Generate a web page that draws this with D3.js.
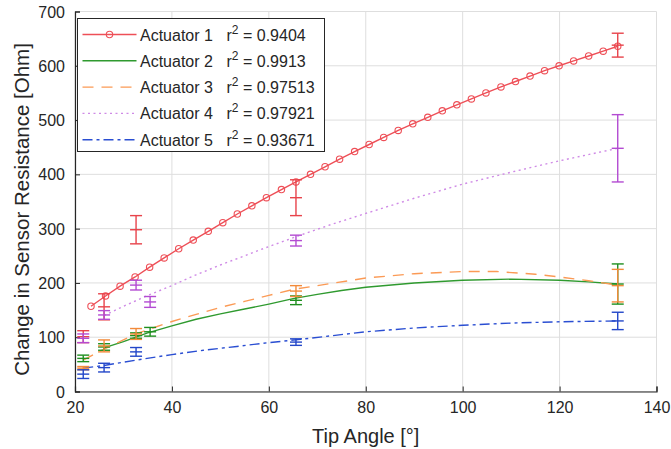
<!DOCTYPE html>
<html>
<head>
<meta charset="utf-8">
<script src="https://cdn.jsdelivr.net/npm/d3@7"></script>
<style>
  html, body { margin: 0; padding: 0; background: #fff; }
  svg { display: block; font-family: "Liberation Sans", Arial, Helvetica, sans-serif; }
</style>
</head>
<body>
<svg id="chart" width="671" height="449"></svg>
<script>
// Axis ticks
const xTicks = [20, 40, 60, 80, 100, 120, 140];
const yTicks = [0, 100, 200, 300, 400, 500, 600, 700];

// Series names and fit quality
const names = ["Actuator 1", "Actuator 2", "Actuator 3", "Actuator 4", "Actuator 5"];
const r2 = ["0.9404", "0.9913", "0.97513", "0.97921", "0.93671"];

// Measured means with error (tip angle in degrees, resistance change in Ohm)
const meas1X = [21.7, 26.0, 32.6, 65.6, 132.0];
const meas1Y = [101, 156, 298, 357, 638];
const meas1E = [11, 24, 26, 33, 22];

const meas2X = [21.7, 26.0, 32.6, 35.5, 65.6, 132.0];
const meas2Y = [61, 82, 103, 110, 168, 198];
const meas2E = [6, 6, 5, 8, 8, 37];

const meas3X = [21.7, 26.0, 32.6, 65.6, 132.0];
const meas3Y = [43, 84, 106, 185, 195];
const meas3E = [3, 11, 10, 10, 30];

const meas4X = [21.7, 26.0, 32.6, 35.5, 65.6, 132.0];
const meas4Y = [98, 141, 196, 165, 278, 448];
const meas4E = [8, 8, 9, 10, 10, 62];

const meas5X = [21.7, 26.0, 32.6, 65.6, 132.0];
const meas5Y = [32, 44, 73, 91, 130];
const meas5E = [8, 8, 8, 6, 16];

// Fitted curves
const fit1X = [23.3, 26.3, 29.3, 32.4, 35.4, 38.4, 41.4, 44.4, 47.5, 50.5, 53.5, 56.5, 59.5,
               62.6, 65.6, 68.6, 71.6, 74.6, 77.7, 80.7, 83.7, 86.7, 89.7, 92.8, 95.8, 98.8,
               101.8, 104.8, 107.9, 110.9, 113.9, 116.9, 119.9, 122.9, 126.0, 129.0, 132.0];
const fit1Y = [157, 176, 194, 211, 229, 246, 263, 279, 295, 311, 327, 342, 357,
               372, 386, 400, 414, 428, 442, 455, 468, 481, 493, 505, 517, 528,
               539, 550, 561, 571, 581, 591, 600, 609, 618, 627, 636];

const fit2X = [25.8, 30, 35, 40, 45, 50, 55, 60, 65, 70, 75, 80, 90, 100, 110, 120, 126, 132];
const fit2Y = [80, 92, 108, 121, 133, 143, 152, 161, 171, 179, 186, 192, 200, 205, 207, 205, 202, 198];

const fit3X = [21.7, 26, 32.5, 40, 45, 50, 55, 60, 65, 70, 80, 90, 100, 107, 115, 120, 126, 132];
const fit3Y = [58, 78, 106, 129, 142, 155, 166, 177, 188, 195, 209, 217, 221, 221, 216, 211, 204, 196];

const fit4X = [26, 30, 35, 40, 45, 50, 55, 60, 66.5, 73, 80, 90, 100, 110, 120, 132];
const fit4Y = [140, 157, 177, 195, 215, 233, 250, 267, 288, 308, 328, 356, 382, 404, 425, 448];

const fit5X = [21.7, 26, 32.7, 40, 46.5, 53.4, 60, 66.5, 80, 90, 100, 110, 120, 132];
const fit5Y = [43, 48, 58, 68, 76, 83, 90, 96, 110, 117, 122, 126, 128.5, 130];

const series = [
  { mx: meas1X, my: meas1Y, me: meas1E, fx: fit1X, fy: fit1Y, line: "#ee4f57", bar: "#e8434b", dash: null, marker: true },
  { mx: meas2X, my: meas2Y, me: meas2E, fx: fit2X, fy: fit2Y, line: "#2f9a2f", bar: "#1f8f1f", dash: null, marker: false },
  { mx: meas3X, my: meas3Y, me: meas3E, fx: fit3X, fy: fit3Y, line: "#fb9a55", bar: "#f28a3a", dash: "11,8", marker: false },
  { mx: meas4X, my: meas4Y, me: meas4E, fx: fit4X, fy: fit4Y, line: "#cf8ae6", bar: "#b34bd2", dash: "2,3.5", marker: false },
  { mx: meas5X, my: meas5Y, me: meas5E, fx: fit5X, fy: fit5Y, line: "#2a4ed2", bar: "#2347c9", dash: "10,4,3,4", marker: false }
];

const svg = d3.select("#chart");
const W = 671, H = 449;
const m = { left: 75, right: 14.5, top: 11.5, bottom: 57.5 };

const x = d3.scaleLinear().domain([20, 140]).range([m.left, W - m.right]);
const y = d3.scaleLinear().domain([0, 700]).range([H - m.bottom, m.top]);

// Grid
const grid = svg.append("g");
grid.selectAll("line.gx").data(xTicks).join("line")
  .attr("x1", d => x(d)).attr("x2", d => x(d))
  .attr("y1", y(0)).attr("y2", y(700))
  .attr("stroke", "#dedede").attr("stroke-width", 1);
grid.selectAll("line.gy").data(yTicks).join("line")
  .attr("x1", x(20)).attr("x2", x(140))
  .attr("y1", d => y(d)).attr("y2", d => y(d))
  .attr("stroke", "#dedede").attr("stroke-width", 1);

// Axes with inward ticks
const xAxis = d3.axisBottom(x).tickValues(xTicks).tickSize(-5).tickPadding(10).tickFormat(d3.format("d"));
const yAxis = d3.axisLeft(y).tickValues(yTicks).tickSize(-5).tickPadding(10).tickFormat(d3.format("d"));

const gx = svg.append("g").attr("transform", `translate(0,${y(0)})`).call(xAxis);
const gy = svg.append("g").attr("transform", `translate(${x(20)},0)`).call(yAxis);
[gx, gy].forEach(g => {
  g.select(".domain").attr("stroke", "#262626").attr("stroke-width", 1.2);
  g.selectAll(".tick line").attr("stroke", "#262626");
  g.selectAll(".tick text").attr("fill", "#262626").attr("font-size", 16)
    .attr("font-family", '"Liberation Sans", Arial, sans-serif');
});
gy.selectAll(".tick text").attr("dy", "0.35em");

// Axis titles
svg.append("text")
  .attr("x", (x(20) + x(140)) / 2).attr("y", 443)
  .attr("text-anchor", "middle").attr("font-size", 20).attr("fill", "#262626")
  .text("Tip Angle [°]");
svg.append("text")
  .attr("transform", `translate(29,${(y(0) + y(700)) / 2 + 8}) rotate(-90)`)
  .attr("text-anchor", "middle").attr("font-size", 20.5).attr("fill", "#262626")
  .text("Change in Sensor Resistance [Ohm]");

const plot = svg.append("g");
const lineGen = d3.line().x(d => x(d[0])).y(d => y(d[1]));

// Fitted curves
series.forEach(s => {
  const pts = s.fx.map((v, i) => [v, s.fy[i]]);
  plot.append("path").datum(pts)
    .attr("d", lineGen).attr("fill", "none")
    .attr("stroke", s.line).attr("stroke-width", 1.4)
    .attr("stroke-dasharray", s.dash);
  if (s.marker) {
    plot.selectAll(null).data(pts).join("circle")
      .attr("cx", d => x(d[0])).attr("cy", d => y(d[1])).attr("r", 3.2)
      .attr("fill", "none").attr("stroke", s.line).attr("stroke-width", 1.1);
  }
});

// Error bars
const cap = 6;
series.forEach(s => {
  const g = plot.append("g").attr("stroke", s.bar).attr("stroke-width", 1.4).attr("fill", "none");
  s.mx.forEach((xv, i) => {
    const lo = s.my[i] - s.me[i], hi = s.my[i] + s.me[i];
    const cx = x(xv);
    g.append("line").attr("x1", cx).attr("x2", cx).attr("y1", y(lo)).attr("y2", y(hi));
    [lo, s.my[i], hi].forEach(v => {
      g.append("line").attr("x1", cx - cap).attr("x2", cx + cap).attr("y1", y(v)).attr("y2", y(v));
    });
  });
});

// Legend
const lg = svg.append("g").attr("transform", "translate(77.5,18.5)");
lg.append("rect").attr("width", 247).attr("height", 133)
  .attr("fill", "#fff").attr("stroke", "#262626").attr("stroke-width", 1);
series.forEach((s, i) => {
  const cy = 16 + i * 26.3;
  lg.append("line").attr("x1", 5).attr("x2", 59).attr("y1", cy).attr("y2", cy)
    .attr("stroke", s.line).attr("stroke-width", 1.4).attr("stroke-dasharray", s.dash);
  if (s.marker) {
    lg.append("circle").attr("cx", 32).attr("cy", cy).attr("r", 3.2)
      .attr("fill", "none").attr("stroke", s.line).attr("stroke-width", 1.1);
  }
  lg.append("text").attr("x", 62.5).attr("y", cy + 6).attr("font-size", 16).attr("fill", "#262626")
    .text(names[i]);
  const t = lg.append("text").attr("x", 149).attr("y", cy + 6).attr("font-size", 16).attr("fill", "#262626");
  t.append("tspan").text("r");
  t.append("tspan").attr("font-size", 12).attr("dy", -7).text("2");
  t.append("tspan").attr("dy", 7).text(" = " + r2[i]);
});
</script>
</body>
</html>
